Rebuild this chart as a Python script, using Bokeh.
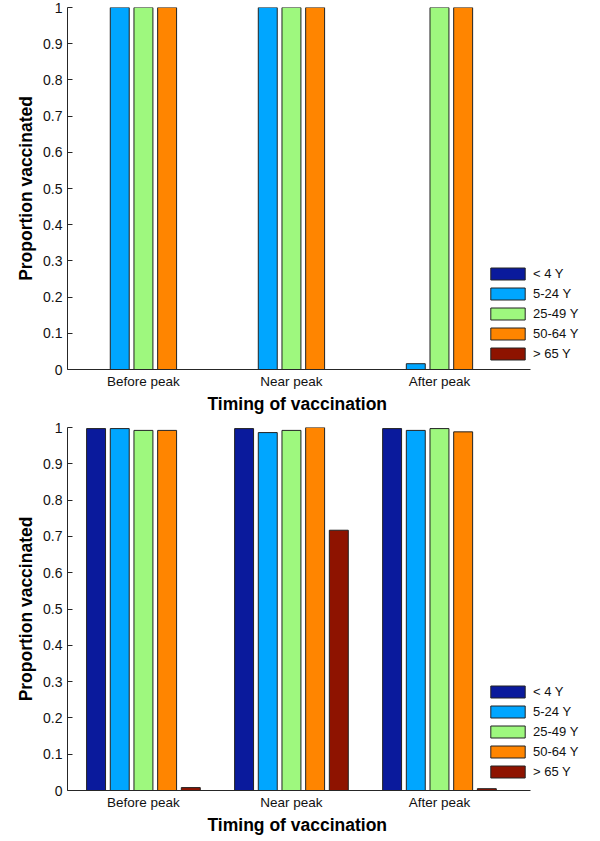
from bokeh.plotting import figure
from bokeh.layouts import column
from bokeh.models import (Legend, LegendItem, FixedTicker, NumeralTickFormatter, Range1d,
                          ColumnDataSource, Title)
from bokeh.embed import file_html
from bokeh.resources import INLINE

# ---- data ----
timing = ["Before peak", "Near peak", "After peak"]
ages = ["< 4 Y", "5-24 Y", "25-49 Y", "50-64 Y", "> 65 Y"]
colors = ["#0A1A9C", "#00A6FF", "#9EF87E", "#FF8500", "#8E1300"]

# top panel
top_lt4 = [0.0, 0.0, 0.0]
top_5_24 = [1.0, 1.0, 0.016]
top_25_49 = [1.0, 1.0, 1.0]
top_50_64 = [1.0, 1.0, 1.0]
top_gt65 = [0.0, 0.0, 0.0]

# bottom panel
bot_lt4 = [0.997, 0.997, 0.997]
bot_5_24 = [0.997, 0.986, 0.992]
bot_25_49 = [0.992, 0.992, 0.997]
bot_50_64 = [0.992, 1.0, 0.988]
bot_gt65 = [0.008, 0.717, 0.005]

y_ticks = [0, 0.1, 0.2, 0.3, 0.4, 0.5, 0.6, 0.7, 0.8, 0.9, 1.0]
x_title = "Timing of vaccination"
y_title = "Proportion vaccinated"

FONT = "Liberation Sans"
W = 600
BORDER_L = 67
AXIS_PX = 463          # visible x-axis length in px
X_START, X_AXIS_END = 0.487, 3.615
FRAME_PX = W - BORDER_L
X_END = X_START + (X_AXIS_END - X_START) * FRAME_PX / AXIS_PX


def make_panel(series, height, border_top, border_bottom, legend_xy):
    p = figure(width=W, height=height, output_backend="svg", toolbar_location=None,
               x_range=Range1d(X_START, X_END), y_range=Range1d(0, 1),
               min_border_left=BORDER_L, min_border_right=0,
               min_border_top=border_top, min_border_bottom=border_bottom)
    p.outline_line_color = None
    p.xgrid.visible = False
    p.ygrid.visible = False

    groups = [1, 2, 3]
    step = 0.16
    items = []
    for k, (vals, col, lab) in enumerate(zip(series, colors, ages)):
        xs = [g + (k - 2) * step for g in groups]
        src = ColumnDataSource(dict(x=xs, top=vals))
        r = p.vbar(x="x", top="top", bottom=0, width=0.128, source=src,
                   fill_color=col, line_color="#222222", line_width=1)
        items.append(LegendItem(label=lab, renderers=[r]))

    leg = Legend(items=items, location=legend_xy, orientation="vertical",
                 glyph_width=43, glyph_height=15, label_height=15, spacing=5,
                 label_standoff=4, padding=0, margin=0,
                 border_line_color=None, background_fill_alpha=0,
                 label_text_font=FONT, label_text_font_size="13px",
                 label_text_color="#111111")
    p.add_layout(leg, "center")

    # x axis
    xa = p.xaxis[0]
    xa.bounds = (X_START, X_AXIS_END)
    xa.ticker = FixedTicker(ticks=groups)
    xa.major_label_overrides = {1: timing[0], 2: timing[1], 3: timing[2]}
    xa.major_tick_in = 0
    xa.major_tick_out = 0
    xa.minor_tick_line_color = None
    xa.axis_line_color = "#262626"
    xa.major_label_text_font = FONT
    xa.major_label_text_font_size = "13.5px"
    xa.major_label_text_color = "#111111"
    xa.major_label_standoff = 4

    # x-axis title, centred under the visible axis (not the whole frame)
    t = Title(text=x_title, align="left", offset=140, standoff=0,
              text_font=FONT, text_font_size="17.5px", text_font_style="bold",
              text_color="#000000")
    p.add_layout(t, "below")

    # y axis
    ya = p.yaxis[0]
    ya.ticker = FixedTicker(ticks=y_ticks)
    ya.formatter = NumeralTickFormatter(format="0.[0]")
    ya.major_tick_in = 5
    ya.major_tick_out = 0
    ya.minor_tick_line_color = None
    ya.axis_line_color = "#262626"
    ya.major_tick_line_color = "#262626"
    ya.major_label_text_font = FONT
    ya.major_label_text_font_size = "14px"
    ya.major_label_text_color = "#111111"
    ya.major_label_standoff = 5
    ya.axis_label = y_title
    ya.axis_label_text_font = FONT
    ya.axis_label_text_font_size = "17.5px"
    ya.axis_label_text_font_style = "bold"
    ya.axis_label_text_color = "#000000"
    ya.axis_label_standoff = 4
    return p


p1 = make_panel([top_lt4, top_5_24, top_25_49, top_50_64, top_gt65],
                height=417, border_top=7, border_bottom=48, legend_xy=(419, 8))
p2 = make_panel([bot_lt4, bot_5_24, bot_25_49, bot_50_64, bot_gt65],
                height=424, border_top=10, border_bottom=51, legend_xy=(419, 11))

layout = column(p1, p2, spacing=0)
open("out.html", "w").write(file_html(layout, INLINE))
